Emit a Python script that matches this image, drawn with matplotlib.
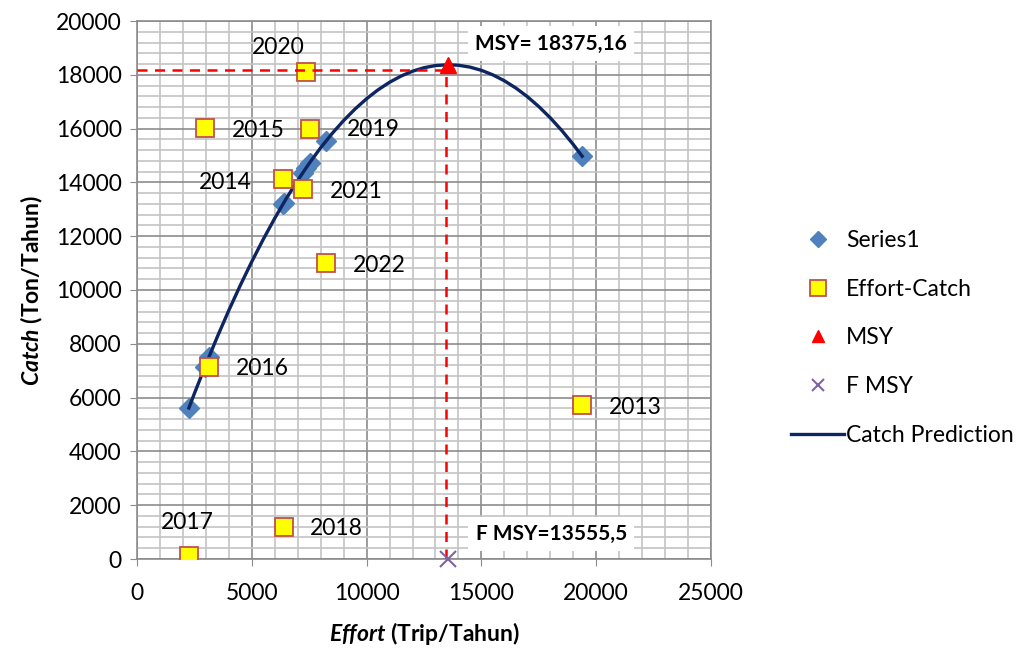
import matplotlib
matplotlib.use("Agg")
import matplotlib.pyplot as plt
from matplotlib.ticker import MultipleLocator

plt.rcParams['font.family'] = ['Lato', 'DejaVu Sans']
plt.rcParams['mathtext.fontset'] = 'custom'
plt.rcParams['mathtext.bfit'] = 'Lato:bold:italic'
plt.rcParams['mathtext.it'] = 'Lato:italic'
plt.rcParams['mathtext.bf'] = 'Lato:bold'
plt.rcParams['mathtext.rm'] = 'Lato'

# ---- data ----
years = ['2013', '2014', '2015', '2016', '2017', '2018', '2019', '2020', '2021', '2022']
effort = [19390, 6350, 2960, 3130, 2260, 6390, 7520, 7350, 7220, 8220]
catch = [5720, 14130, 16020, 7140, 110, 1190, 15990, 18100, 13750, 11000]

series1_effort = [19390, 6350, 2960, 3130, 2260, 6390, 7520, 7350, 7220, 8220]
series1_catch = [14972, 13183, 7149, 7506, 5616, 13241, 14732, 14525, 14361, 15528]

pred_effort = [2260, 2500, 3000, 3500, 4000, 4500, 5000, 5500, 6000, 6500, 7000, 7500,
               8000, 8500, 9000, 9500, 10000, 10500, 11000, 11500, 12000, 12500,
               13000, 13555.5, 14000, 14500, 15000, 15500, 16000, 16500, 17000,
               17500, 18000, 18500, 19000, 19390]
pred_catch = [5616, 6153, 7233, 8264, 9244, 10175, 11056, 11886, 12667, 13397, 14078,
              14708, 15289, 15819, 16300, 16730, 17111, 17442, 17722, 17953, 18133,
              18264, 18344, 18375.16, 18355, 18286, 18167, 17997, 17778, 17508, 17189,
              16819, 16400, 15930, 15411, 14972]

msy_effort = 13555.5
msy_catch = 18375.16
guide_x = 13450
guide_y = 18190

# label offsets (pixels) for year labels: (dx, dy, ha)
label_offsets = {
    '2013': (27, -2, 'left'), '2014': (-31, -4, 'right'), '2015': (27, -2, 'left'),
    '2016': (27, -2, 'left'), '2017': (-2, 34, 'center'), '2018': (26, -2, 'left'),
    '2019': (37, -1, 'left'), '2020': (-28, 25, 'center'), '2021': (27, -2, 'left'),
    '2022': (27, -2, 'left'),
}

FS = 16.5

fig = plt.figure(figsize=(10.24, 6.48), dpi=100)
ax = fig.add_axes([137/1024, 1 - 559/648, (711-137)/1024, (559-21)/648])

ax.set_xlim(0, 25000)
ax.set_ylim(0, 20000)
ax.xaxis.set_major_locator(MultipleLocator(5000))
ax.xaxis.set_minor_locator(MultipleLocator(1000))
ax.yaxis.set_major_locator(MultipleLocator(2000))
ax.yaxis.set_minor_locator(MultipleLocator(400))
ax.grid(which='minor', color='#c4c4c4', linewidth=1.2, zorder=0)
ax.grid(which='major', color='#8c8c8c', linewidth=1.2, zorder=0)
ax.set_axisbelow(True)
for s in ax.spines.values():
    s.set_color('#8c8c8c')
    s.set_linewidth(1.2)
ax.tick_params(which='major', direction='out', length=5, color='#8c8c8c', labelsize=FS)
ax.tick_params(axis='x', pad=12)
ax.tick_params(axis='y', pad=6)
ax.tick_params(which='minor', length=0)

ax.plot(series1_effort, series1_catch, linestyle='none', marker='D', markersize=10,
        color='#4F81BD', zorder=3, label='Series1')
ax.plot(pred_effort, pred_catch, color='#0D2560', linewidth=2.4, zorder=4,
        label='Catch Prediction')
ax.plot(effort, catch, linestyle='none', marker='s', markersize=13,
        markerfacecolor='#FFFF00', markeredgecolor='#C0504D', markeredgewidth=1.3,
        zorder=5, label='Effort-Catch')
ax.plot([0, guide_x], [guide_y, guide_y], color='#FF0000', linestyle=(0, (4, 3)),
        linewidth=1.8, zorder=6)
ax.plot([guide_x, guide_x], [0, guide_y], color='#FF0000', linestyle=(0, (4, 3)),
        linewidth=1.8, zorder=6)
ax.plot([msy_effort], [msy_catch], linestyle='none', marker='^', markersize=11,
        color='#FF0000', zorder=7, label='MSY', clip_on=False)
ax.plot([msy_effort], [0], linestyle='none', marker='x', markersize=11,
        markeredgewidth=1.5, color='#8064A2', zorder=7, label='F MSY', clip_on=False)

for yr, ex, cy in zip(years, effort, catch):
    dx, dy, ha = label_offsets[yr]
    ax.annotate(yr, (ex, cy), xytext=(dx, dy), textcoords='offset pixels',
                ha=ha, va='center', fontsize=FS, zorder=8)

ax.annotate('MSY= 18375,16', (msy_effort, msy_catch), xytext=(103, 21),
            textcoords='offset pixels', ha='center', va='center', fontsize=15,
            fontweight='bold', zorder=9,
            bbox=dict(boxstyle='square,pad=0.35', facecolor='white', edgecolor='none'))
ax.annotate('F MSY=13555,5', (msy_effort, 0), xytext=(103, 25),
            textcoords='offset pixels', ha='center', va='center', fontsize=15,
            fontweight='bold', zorder=9,
            bbox=dict(boxstyle='square,pad=0.35', facecolor='white', edgecolor='none'))

ax.set_xlabel(r'$\mathbfit{Effort}$ (Trip/Tahun)', fontsize=FS, fontweight='bold', labelpad=12)
ax.set_ylabel(r'$\mathbfit{Catch}$ (Ton/Tahun)', fontsize=FS, fontweight='bold', labelpad=8)

handles, labels = ax.get_legend_handles_labels()
order = ['Series1', 'Effort-Catch', 'MSY', 'F MSY', 'Catch Prediction']
hmap = dict(zip(labels, handles))
fig.legend([hmap[k] for k in order], order, loc='center left',
           bbox_to_anchor=(782/1024, 1 - 338/648), frameon=False, fontsize=16.5,
           labelspacing=1.22, handlelength=2.3, handletextpad=0.1, markerscale=0.85,
           borderaxespad=0.0)

fig.savefig('out.png', dpi=100)
